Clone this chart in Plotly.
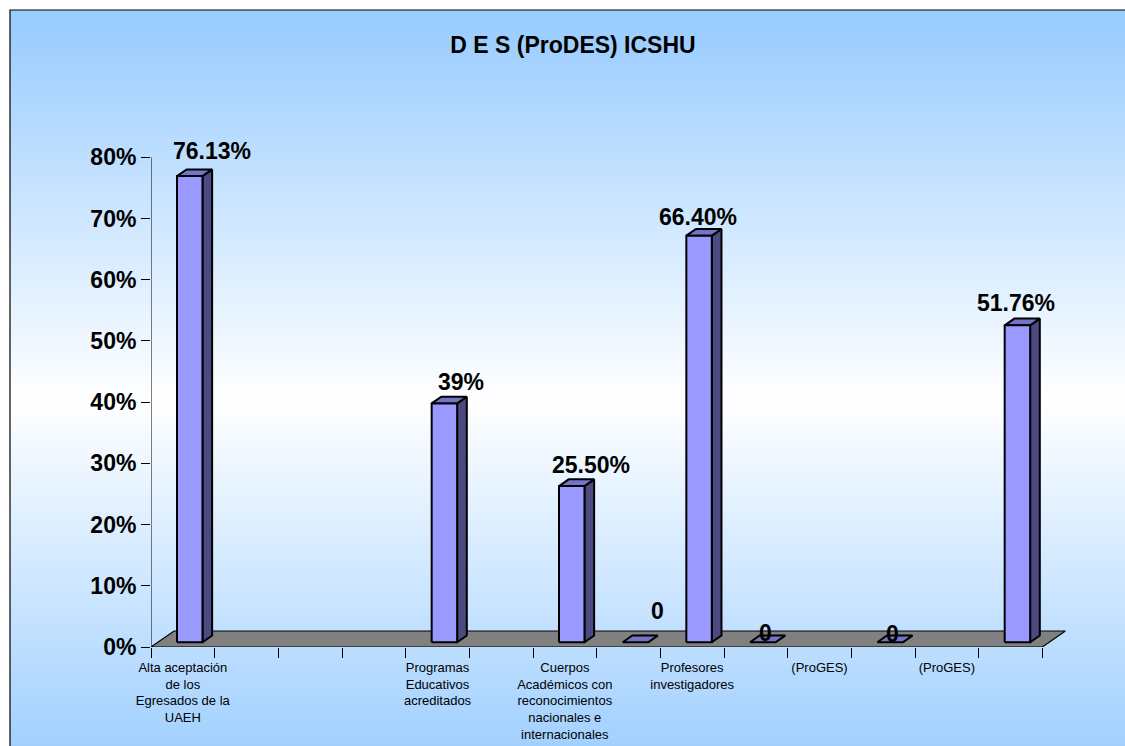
import plotly.graph_objects as go

# chart data
categorias = [
    "Alta aceptación<br>de los<br>Egresados de la<br>UAEH", "", "", "",
    "Programas<br>Educativos<br>acreditados", "",
    "Cuerpos<br>Académicos con<br>reconocimientos<br>nacionales e<br>internacionales", "",
    "Profesores<br>investigadores", "", "(ProGES)", "", "(ProGES)", "",
]
valores = [76.13, None, None, None, 39, None, 25.5, 0, 66.4, 0, None, 0, None, 51.76]
etiquetas = ["76.13%", "", "", "", "39%", "", "25.50%", "0", "66.40%", "0", "", "0", "", "51.76%"]
y_ticks = [0, 10, 20, 30, 40, 50, 60, 70, 80]
titulo = "D E S (ProDES) ICSHU"

# label nudges in px (right, up), as placed in the original
nudge_x = [29, 0, 0, 0, 23, 0, 26, 29, 6, 10, 0, 9, 0, 5]
nudge_y = [30, 0, 0, 0, 26, 0, 26, 36, 23, 14, 0, 13, 0, 27]

W, H = 1125, 746
ML, MR, MT, MB = 151, 54, 96, 99
XR = [0.5, 14.95]
YR = [0, 90]
ux = (W - ML - MR) / (XR[1] - XR[0])   # px per category
uy = (H - MT - MB) / (YR[1] - YR[0])   # px per percent

# fake 3D: depth vector of the floor, in data units
DX, DY = 23 / ux, 16 / uy
d1, d2 = 0.3, 0.72
hw = 0.2

FONT = "Liberation Sans, Arial, sans-serif"


def px_x(p):
    return (p - ML) / (W - ML - MR)


def px_y(p):
    return (H - MB - p) / (H - MT - MB)


fig = go.Figure()

# floor
n = len(categorias)
fx = [0.5, n + 0.5, n + 0.5 + DX, 0.5 + DX, 0.5]
fy = [0, 0, DY, DY, 0]
fig.add_trace(go.Scatter(x=fx, y=fy, mode="lines", fill="toself", fillcolor="#808080",
                         line=dict(color="black", width=1.2), hoverinfo="skip", showlegend=False))

# y axis line
fig.add_trace(go.Scatter(x=[0.5, 0.5], y=[0, y_ticks[-1]], mode="lines",
                         line=dict(color="black", width=1), hoverinfo="skip", showlegend=False))

side_x, side_y, top_x, top_y, front_x, front_y = [], [], [], [], [], []
e = d2 - d1
for i, v in enumerate(valores):
    if v is None:
        continue
    c = i + 1
    x0 = c - hw + d1 * DX
    x1 = c + hw + d1 * DX
    y0 = d1 * DY
    y1 = v + d1 * DY
    side_x += [x1, x1 + e * DX, x1 + e * DX, x1, x1, None]
    side_y += [y0, y0 + e * DY, y1 + e * DY, y1, y0, None]
    top_x += [x0, x1, x1 + e * DX, x0 + e * DX, x0, None]
    top_y += [y1, y1, y1 + e * DY, y1 + e * DY, y1, None]
    if v > 0:
        front_x += [x0, x1, x1, x0, x0, None]
        front_y += [y0, y0, y1, y1, y0, None]

for xs, ys, col in [(side_x, side_y, "#4B4B82"), (top_x, top_y, "#7474C8"), (front_x, front_y, "#9999FF")]:
    fig.add_trace(go.Scatter(x=xs, y=ys, mode="lines", fill="toself", fillcolor=col,
                             line=dict(color="black", width=2), hoverinfo="skip", showlegend=False))

# value labels
for i, v in enumerate(valores):
    if v is None or not etiquetas[i]:
        continue
    fig.add_annotation(x=i + 1, y=v, text=etiquetas[i], showarrow=False,
                       xanchor="center", yanchor="middle",
                       xshift=nudge_x[i], yshift=nudge_y[i],
                       font=dict(family=FONT, size=23, color="black", weight="bold"))

# dummy trace for the label axis
fig.add_trace(go.Scatter(x=[1], y=[0], xaxis="x2", mode="markers",
                         marker=dict(opacity=0), hoverinfo="skip", showlegend=False))

# background gradient and border
shapes = []
step = 4
for p in range(10, H, step):
    t = min(abs(p + step / 2 - 400) / 380, 1)
    r = round(255 - (255 - 153) * t)
    g = round(255 - (255 - 204) * t)
    shapes.append(dict(type="rect", xref="paper", yref="paper", layer="below",
                       x0=px_x(10), x1=px_x(W + 5), y0=px_y(p + step + 0.5), y1=px_y(p),
                       fillcolor=f"rgb({r},{g},255)", line=dict(width=0)))
shapes.append(dict(type="rect", xref="paper", yref="paper", layer="below",
                   x0=px_x(10), x1=px_x(W + 20), y0=px_y(H + 20), y1=px_y(10),
                   fillcolor="rgba(0,0,0,0)", line=dict(color="black", width=1.2)))

tick_pos = [k + 0.5 for k in range(n + 1)]
lab_pos = [i + 1 for i, c in enumerate(categorias) if c]
lab_txt = [c for c in categorias if c]

fig.update_layout(
    width=W, height=H,
    margin=dict(l=ML, r=MR, t=MT, b=MB),
    paper_bgcolor="white",
    plot_bgcolor="rgba(0,0,0,0)",
    shapes=shapes,
    title=dict(text=titulo, x=573 / W, y=1 - 45 / H, xref="container", yref="container",
               xanchor="center", yanchor="middle",
               font=dict(family=FONT, size=23, color="black", weight="bold")),
    xaxis=dict(range=XR, tickmode="array", tickvals=tick_pos, showticklabels=False,
               ticks="outside", ticklen=10, tickcolor="black", tickwidth=1, automargin=False,
               showgrid=False, zeroline=False, showline=False),
    xaxis2=dict(range=XR, overlaying="x", anchor="y", side="bottom",
                tickmode="array", tickvals=lab_pos, ticktext=lab_txt, automargin=False,
                ticks="outside", ticklen=8, tickcolor="rgba(0,0,0,0)",
                tickfont=dict(family=FONT, size=13, color="black"),
                showgrid=False, zeroline=False, showline=False),
    yaxis=dict(range=YR, tickmode="array", tickvals=y_ticks,
               ticktext=[f"{v}%" for v in y_ticks], automargin=False,
               ticks="outside", ticklen=9, tickcolor="black", tickwidth=1,
               tickfont=dict(family=FONT, size=23, color="black", weight="bold"),
               showgrid=False, zeroline=False, showline=False),
    showlegend=False,
)

fig.write_html("out.html", config={"displayModeBar": False},
               post_script="document.body.style.margin='0';")
